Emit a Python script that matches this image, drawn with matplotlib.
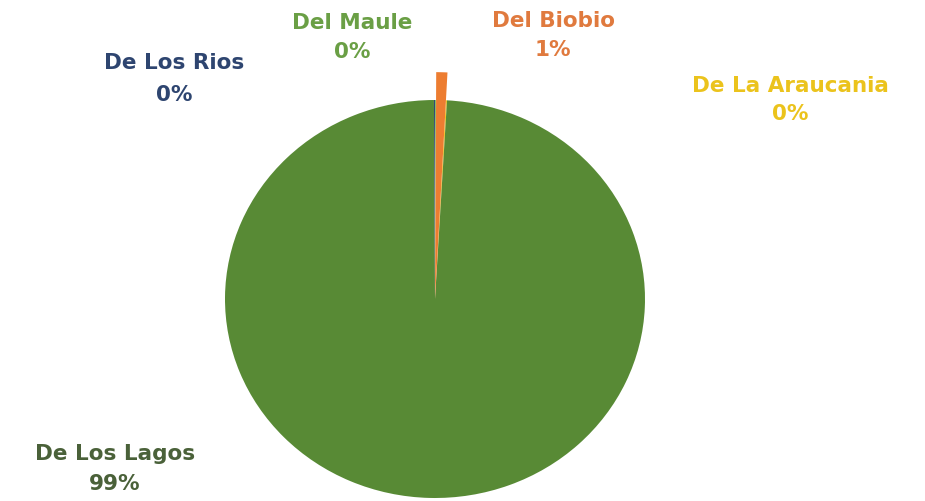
import matplotlib
matplotlib.use("Agg")
import matplotlib.pyplot as plt

# Regiones en orden horario desde las 12
regiones = ["Del Maule", "Del Biobio", "De La Araucania", "De Los Lagos", "De Los Rios"]
valores = [0.08, 0.75, 0.08, 99.01, 0.08]
etiquetas_pct = ["0%", "1%", "0%", "99%", "0%"]

colores_cuna = ["#8DB866", "#ED7D31", "#F5C518", "#588A35", "#2F4A7A"]
colores_texto = ["#6A9F45", "#E07A3E", "#EBC31C", "#4A6139", "#2E4570"]

# posiciones de etiquetas en pixeles (centro x, linea 1 y, linea 2 y)
pos_etiquetas = {
    "Del Maule": (352, 23, 52),
    "Del Biobio": (553, 21, 50),
    "De La Araucania": (790, 86, 114),
    "De Los Lagos": (115, 454, 484),
    "De Los Rios": (174, 63, 95),
}

W, H = 925, 501
fig = plt.figure(figsize=(W / 100, H / 100), dpi=100)
fig.patch.set_facecolor("white")

# caja del pie en pixeles
izq, der, arriba, abajo = 225, 645, 100, 498
ax = fig.add_axes([izq / W, 1 - abajo / H, (der - izq) / W, (abajo - arriba) / H])

wedges, _ = ax.pie(valores, colors=colores_cuna, startangle=90, counterclock=False,
                   wedgeprops=dict(linewidth=0))
ax.set_aspect("auto")
ax.set_xlim(-1, 1)
ax.set_ylim(-1, 1)
ax.axis("off")

for w in wedges:
    w.set_clip_on(False)
# la cuña de Biobio sobresale un poco
wedges[1].set_radius(1.14)
wedges[1].set_zorder(3)

for reg, pct, col in zip(regiones, etiquetas_pct, colores_texto):
    x, y1, y2 = pos_etiquetas[reg]
    fig.text(x / W, 1 - y1 / H, reg, ha="center", va="center", color=col,
             fontsize=15.5, fontweight="bold", family="DejaVu Sans")
    fig.text(x / W, 1 - y2 / H, pct, ha="center", va="center", color=col,
             fontsize=15.5, fontweight="bold", family="DejaVu Sans")

fig.savefig("out.png", dpi=100)
